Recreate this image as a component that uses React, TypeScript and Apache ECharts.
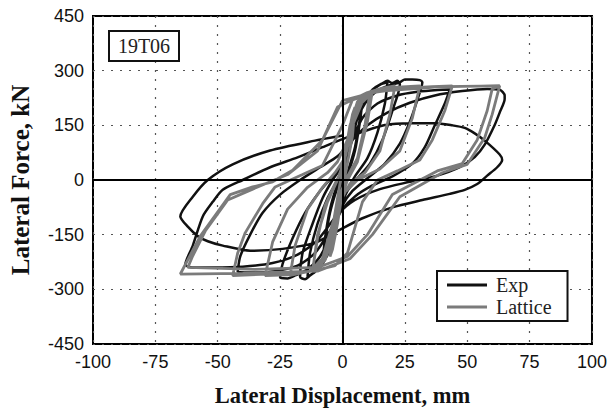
import React, { useEffect, useRef } from "react";
import * as echarts from "echarts";

const xTicks = [-100, -75, -50, -25, 0, 25, 50, 75, 100];
const yTicks = [-450, -300, -150, 0, 150, 300, 450];
const seriesNames = ["Exp", "Lattice"];
const specimenLabel = "19T06";

const expCycle1 = [[0,0],[1,40],[2,90],[4,150],[3,100],[1,30],[0,-10],[-1,-50],[-2,-100],[-4,-160],[-3,-100],[-1,-30],[0,0]];
const expCycle2 = [[2,80],[4,140],[6,190],[8,225],[7,170],[5,90],[2,20],[0,-20],[-2,-80],[-4,-150],[-6,-200],[-8,-232],[-7,-170],[-5,-90],[-2,-20],[0,10]];
const expCycle2b = [[2,70],[4,130],[6,180],[8,215],[7,160],[5,80],[2,10],[0,-30],[-2,-90],[-4,-160],[-6,-205],[-8,-228],[-7,-160],[-5,-80],[-2,-10],[0,20]];
const expCycle3 = [[2,60],[4,120],[7,190],[10,230],[13,252],[16,265],[18,272],[20,266],[22,272],[23,262],[20,190],[16,110],[11,45],[6,5],[2,-30],[-1,-80],[-4,-150],[-7,-210],[-10,-245],[-13,-262],[-15,-272],[-17,-266],[-16,-200],[-12,-120],[-8,-50],[-4,0],[-1,30]];
const expCycle3b = [[3,90],[6,170],[9,220],[12,248],[15,262],[18,268],[17,210],[14,130],[10,60],[5,10],[1,-40],[-2,-100],[-5,-170],[-8,-225],[-11,-252],[-14,-265],[-13,-200],[-10,-120],[-6,-50],[-2,0],[0,30]];
const expCycle4 = [[2,70],[5,150],[9,210],[14,245],[19,260],[23,268],[25,276],[28,276],[31,274],[32,268],[30,220],[27,160],[23,100],[17,45],[10,5],[4,-30],[0,-70],[-4,-140],[-9,-210],[-14,-245],[-19,-262],[-22,-270],[-25,-268],[-24,-230],[-20,-160],[-15,-90],[-9,-30],[-4,10],[0,40]];
const expCycle5 = [[4,110],[8,170],[14,210],[22,232],[30,242],[38,247],[43,248],[41,210],[37,150],[33,90],[28,45],[20,10],[12,-15],[5,-45],[0,-80],[-5,-140],[-11,-200],[-18,-235],[-27,-250],[-35,-254],[-42,-252],[-41,-210],[-37,-150],[-32,-90],[-25,-40],[-17,0],[-9,35],[-2,65]];
const expCycle6 = [[4,110],[10,150],[18,185],[27,212],[37,232],[48,244],[58,250],[63,248],[65,232],[65,222],[63,185],[61,151],[57,97],[53,63],[47,35],[38,12],[27,-5],[15,-25],[5,-55],[-2,-95],[-10,-165],[-18,-205],[-28,-228],[-40,-238],[-52,-240],[-60,-240],[-63,-232],[-60,-180],[-56,-100],[-52,-60],[-48,-27],[-40,0],[-29,35],[-18,62],[-8,90],[0,112],[8,132]];
const expCycle7 = [[17,151],[27,156],[37,156],[44,150],[49,143],[53,128],[57,108],[63,70],[64,55],[62,35],[58,12],[54,-11],[49,-27],[43,-38],[32,-55],[20,-75],[8,-105],[-2,-140],[-11,-172],[-24,-189],[-37,-194],[-48,-180],[-54,-168],[-58,-154],[-62,-128],[-65,-100],[-60,-46],[-54,0],[-44,43],[-29,81],[-11,108],[0,122]];

const latCycle1 = [[0,0],[2,110],[4,180],[5,200],[4,120],[1,10],[0,-30],[-2,-120],[-4,-190],[-5,-210],[-4,-130],[-1,-10],[0,20]];
const latCycle2 = [[2,110],[5,190],[8,225],[11,240],[9,150],[6,60],[2,10],[-1,-40],[-3,-110],[-6,-200],[-9,-235],[-12,-248],[-10,-160],[-7,-70],[-3,-10],[0,30]];
const latCycle2b = [[3,150],[6,215],[9,235],[12,245],[10,160],[6,50],[2,0],[-1,-60],[-4,-160],[-7,-220],[-10,-240],[-12,-250],[-10,-150],[-6,-60],[-2,0],[0,40]];
const latCycle3 = [[3,120],[6,200],[10,240],[16,252],[21,258],[19,180],[15,80],[9,20],[3,-10],[-1,-60],[-4,-150],[-8,-225],[-13,-250],[-21,-262],[-19,-180],[-14,-80],[-8,-20],[-3,20]];
const latCycle4 = [[1,60],[4,150],[8,215],[13,245],[22,255],[31,258],[28,170],[23,80],[15,30],[6,0],[0,-40],[-4,-120],[-8,-215],[-13,-250],[-22,-260],[-31,-262],[-28,-170],[-22,-80],[-14,-20],[-6,20],[-2,50]];
const latCycle5 = [[2,110],[6,200],[12,240],[25,252],[36,256],[44,258],[41,190],[36,110],[31,55],[22,25],[14,0],[8,-60],[2,-200],[-3,-235],[-12,-250],[-30,-258],[-44,-262],[-42,-200],[-39,-145],[-32,-65],[-27,-19],[-16,15],[-8,40],[0,150],[4,220]];
const latCycle6 = [[14,243],[30,254],[48,257],[63,258],[60,180],[57,116],[50,43],[40,20],[23,-46],[12,-150],[3,-216],[-10,-250],[-40,-256],[-65,-258],[-57,-154],[-45,-40],[-36,-19],[-28,-5],[-20,27],[-8,110],[0,218],[14,243],[40,256],[63,258]];
const latCycle6b = [[60,250],[58,190],[54,110],[48,45],[38,25],[20,-40],[10,-150],[2,-210],[-10,-240],[-35,-245],[-62,-240],[-60,-208],[-55,-140],[-46,-55],[-36,-25],[-22,15],[-10,80],[-2,200],[10,240]];

const expData = [...expCycle1, ...expCycle2, ...expCycle2b, ...expCycle3, ...expCycle3b, ...expCycle4, ...expCycle5, ...expCycle6, ...expCycle7];
const latData = [...latCycle1, ...latCycle2, ...latCycle2b, ...latCycle3, ...latCycle4, ...latCycle5, ...latCycle6, ...latCycle6b];

export default function App() {
  const ref = useRef<HTMLDivElement>(null);
  useEffect(() => {
    if (!ref.current) return;
    const chart = echarts.init(ref.current, null, { renderer: "svg" });
    const gridStyle = { type: [2, 7], color: "#555", width: 1.2 };
    chart.setOption({
      animation: false,
      backgroundColor: "#fff",
      grid: { left: 85, right: 14, top: 16, bottom: 61, show: true, borderColor: "#000", borderWidth: 2, backgroundColor: "transparent" },
      xAxis: {
        type: "value",
        min: xTicks[0],
        max: xTicks[xTicks.length - 1],
        interval: 25,
        name: "Lateral Displacement, mm",
        nameLocation: "middle",
        nameGap: 40,
        nameTextStyle: { fontFamily: "Liberation Serif", fontWeight: "bold", fontSize: 22.5, color: "#111" },
        axisLine: { show: false, onZero: false },
        axisTick: { show: false },
        axisLabel: { fontFamily: "Liberation Sans", fontSize: 18, color: "#111", margin: 9 },
        splitLine: { show: true, lineStyle: gridStyle },
      },
      yAxis: {
        type: "value",
        min: yTicks[0],
        max: yTicks[yTicks.length - 1],
        interval: 150,
        name: "Lateral Force, kN",
        nameLocation: "middle",
        nameGap: 60,
        nameTextStyle: { fontFamily: "Liberation Serif", fontWeight: "bold", fontSize: 25, color: "#111" },
        axisLine: { show: false, onZero: false },
        axisTick: { show: false },
        axisLabel: { fontFamily: "Liberation Sans", fontSize: 18, color: "#111", margin: 9 },
        splitLine: { show: true, lineStyle: gridStyle },
      },
      legend: {
        orient: "vertical",
        left: 437,
        top: 271,
        padding: [4, 16, 4, 10],
        itemGap: 2,
        itemWidth: 40,
        itemHeight: 3,
        icon: "rect",
        borderColor: "#111",
        borderWidth: 2,
        backgroundColor: "#fff",
        textStyle: { fontFamily: "Liberation Serif", fontSize: 20, color: "#222", lineHeight: 20, padding: [0, 0, 0, 4] },
        data: seriesNames,
      },
      graphic: [
        {
          type: "rect",
          shape: { x: 109, y: 31, width: 70, height: 30 },
          style: { fill: "#fff", stroke: "#111", lineWidth: 2 },
          z: 10,
        },
        {
          type: "text",
          x: 144,
          y: 46,
          style: { text: specimenLabel, fontFamily: "Liberation Serif", fontSize: 20, fill: "#222", align: "center", verticalAlign: "middle" },
          z: 11,
        },
      ],
      series: [
        {
          name: seriesNames[0],
          type: "line",
          data: expData,
          symbol: "none",
          smooth: 0.25,
          lineStyle: { color: "#111", width: 2.5 },
          itemStyle: { color: "#111" },
          markLine: {
            silent: true,
            symbol: "none",
            label: { show: false },
            lineStyle: { color: "#000", type: "solid", width: 2 },
            data: [{ xAxis: 0 }, { yAxis: 0 }],
          },
          z: 3,
        },
        {
          name: seriesNames[1],
          type: "line",
          data: latData,
          symbol: "none",
          smooth: false,
          lineStyle: { color: "#7b7b7b", width: 2.8 },
          itemStyle: { color: "#7b7b7b" },
          z: 4,
        },
      ],
    });
    return () => chart.dispose();
  }, []);
  return <div ref={ref} style={{ width: 610, height: 412, position: "absolute", left: 0, top: 0 }} />;
}
